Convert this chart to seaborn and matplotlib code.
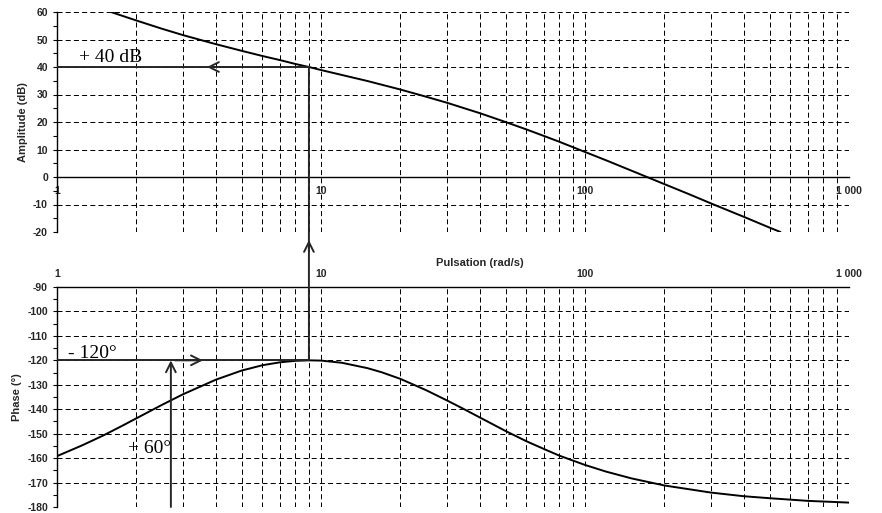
import matplotlib
matplotlib.use("Agg")
import matplotlib.pyplot as plt
import numpy as np
import pandas as pd
import seaborn as sns
from matplotlib.patches import ConnectionPatch
from matplotlib.ticker import FixedLocator, FixedFormatter, NullFormatter

# ---------------- data ----------------
pulsation_gain = [1.6, 2, 2.5, 3, 4, 5, 6, 7, 8, 9, 10, 12, 15, 20, 25, 30, 40, 50,
                  60, 70, 80, 100, 120, 150, 200, 250, 300, 400, 500, 550]
amplitude_db = [60.0, 56.9, 53.9, 51.6, 48.3, 45.9, 44.0, 42.5, 41.1, 40.0, 38.9, 37.1,
                34.9, 31.8, 29.2, 27.0, 23.2, 20.0, 17.3, 14.9, 12.8, 9.1, 6.1, 2.3,
                -2.6, -6.4, -9.6, -14.5, -18.4, -20.0]

pulsation_phase = [1, 1.25, 1.5, 1.75, 2, 2.5, 3, 4, 5, 6, 7, 8, 9, 10, 12, 15, 17, 20,
                   25, 30, 35, 40, 50, 60, 70, 80, 100, 120, 150, 200, 300, 400, 500,
                   700, 1000]
phase_deg = [-159.2, -154.7, -150.7, -147.0, -143.7, -138.2, -133.9, -127.9, -124.2,
             -122.0, -120.8, -120.2, -120.0, -120.1, -121.0, -123.2, -124.9, -127.6,
             -132.2, -136.4, -140.1, -143.4, -148.9, -153.1, -156.3, -159.0, -162.8,
             -165.5, -168.3, -171.2, -174.1, -175.6, -176.4, -177.5, -178.2]

x_major = [1, 10, 100, 1000]
x_major_labels = ["1", "10", "100", "1 000"]
amp_ticks = [-20, -10, 0, 10, 20, 30, 40, 50, 60]
phase_ticks = [-180, -170, -160, -150, -140, -130, -120, -110, -100, -90]

w_cross = 9.0        # pulsation where gain = 40 dB
gain_cross = 40
phase_max = -120
w_lead = 2.7         # pulsation of the +60° arrow

# ---------------- style ----------------
sns.set_style("white")
plt.rcParams["font.family"] = ["Liberation Sans", "DejaVu Sans"]
plt.rcParams["font.weight"] = "bold"
plt.rcParams["axes.labelweight"] = "bold"
plt.rcParams["axes.unicode_minus"] = False

fig = plt.figure(figsize=(8.82, 5.13), dpi=100)
L, W, H = 57 / 882, 792 / 882, 220 / 513
ax_top = fig.add_axes([L, 1 - 232 / 513, W, H])
ax_bot = fig.add_axes([L, 1 - 507 / 513, W, H])

df_gain = pd.DataFrame({"w": pulsation_gain, "A": amplitude_db})
df_phase = pd.DataFrame({"w": pulsation_phase, "P": phase_deg})

line_kw = dict(color="black", linewidth=1.4)
sns.lineplot(data=df_gain, x="w", y="A", ax=ax_top, **line_kw)
sns.lineplot(data=df_phase, x="w", y="P", ax=ax_bot, **line_kw)

minor_x = [m * 10 ** d for d in range(3) for m in range(2, 10)]
grid_kw = dict(color="black", linewidth=0.72, linestyle=(0, (5, 3.2)))
tick_font = 7.5

for ax, yticks, ylim in ((ax_top, amp_ticks, (-20, 60)), (ax_bot, phase_ticks, (-180, -90))):
    ax.set_xscale("log")
    ax.set_xlim(1, 1000)
    ax.set_ylim(*ylim)
    ax.xaxis.set_major_locator(FixedLocator(x_major))
    ax.xaxis.set_major_formatter(FixedFormatter(x_major_labels))
    ax.xaxis.set_minor_locator(FixedLocator(minor_x))
    ax.xaxis.set_minor_formatter(NullFormatter())
    ax.yaxis.set_major_locator(FixedLocator(yticks))
    ax.yaxis.set_minor_locator(FixedLocator([v + 5 for v in yticks[:-1]]))
    ax.grid(which="major", axis="both", **grid_kw)
    ax.grid(which="minor", axis="x", **grid_kw)
    ax.tick_params(axis="x", which="both", length=0, labelsize=tick_font)
    ax.tick_params(axis="y", which="major", direction="out", length=3, width=0.8,
                   pad=3.5, labelsize=tick_font, left=True, color="black")
    ax.tick_params(axis="y", which="minor", direction="out", length=3, width=0.8,
                   left=True, color="black")
    ax.set_xlabel("")
    ax.spines["left"].set_color("black")
    ax.spines["left"].set_linewidth(1.0)
    ax.spines["right"].set_visible(False)
    ax.set_axisbelow(True)

# top axes: x axis drawn at 0 dB
ax_top.spines["top"].set_visible(False)
ax_top.spines["bottom"].set_position(("data", 0))
ax_top.spines["bottom"].set_color("black")
ax_top.spines["bottom"].set_linewidth(1.0)
ax_top.tick_params(axis="x", pad=6.5)
ax_top.set_ylabel("Amplitude (dB)", fontsize=8, va="center")
ax_top.yaxis.set_label_coords(-0.0429, 0.5)

# bottom axes: x axis on top at -90°
ax_bot.spines["bottom"].set_visible(False)
ax_bot.spines["top"].set_color("black")
ax_bot.spines["top"].set_linewidth(1.0)
ax_bot.xaxis.tick_top()
ax_bot.tick_params(axis="x", which="both", length=0, pad=6, labeltop=True, labelbottom=False)
ax_bot.set_ylabel("Phase (°)", fontsize=8, va="center")
ax_bot.yaxis.set_label_coords(-0.0511, 0.5)

for ax in (ax_top, ax_bot):
    for lab in ax.get_xticklabels() + ax.get_yticklabels():
        lab.set_fontweight("bold")

fig.text(480 / 882, 1 - 263 / 513, "Pulsation (rad/s)", ha="center", va="center",
         fontsize=8, fontweight="bold")

# ---------------- annotations ----------------
ann_color = "#262626"
ann_lw = 1.4
arrow_style = "->,head_length=0.7,head_width=0.35"
arr_kw = dict(arrowstyle=arrow_style, color=ann_color, lw=ann_lw,
              shrinkA=0, shrinkB=0, mutation_scale=10)

ax_top.plot([1, w_cross], [gain_cross, gain_cross], color=ann_color, lw=ann_lw, zorder=3)
ax_top.annotate("", xy=(3.7, gain_cross), xytext=(5.0, gain_cross), arrowprops=arr_kw)

ax_bot.plot([1, w_cross], [phase_max, phase_max], color=ann_color, lw=ann_lw, zorder=3)
ax_bot.annotate("", xy=(3.57, phase_max), xytext=(2.8, phase_max), arrowprops=arr_kw)

ax_bot.annotate("", xy=(w_lead, phase_max), xytext=(w_lead, -180), arrowprops=arr_kw,
                annotation_clip=False)

con = ConnectionPatch(xyA=(w_cross, phase_max), coordsA=ax_bot.transData,
                      xyB=(w_cross, gain_cross), coordsB=ax_top.transData,
                      color=ann_color, lw=ann_lw)
fig.add_artist(con)
ax_top.annotate("", xy=(w_cross, -22.9), xytext=(w_cross, -27), arrowprops=arr_kw,
                annotation_clip=False)

serif = dict(family=["Liberation Serif", "DejaVu Serif"], fontsize=14,
             fontweight="normal", color="black", va="baseline")
ax_top.text(1.21, 41.9, "+ 40 dB", **serif)
ax_bot.text(1.10, -118.9, "- 120°", **serif)
ax_bot.text(1.857, -157.8, "+ 60°", **serif)

fig.savefig("out.png", dpi=100)
